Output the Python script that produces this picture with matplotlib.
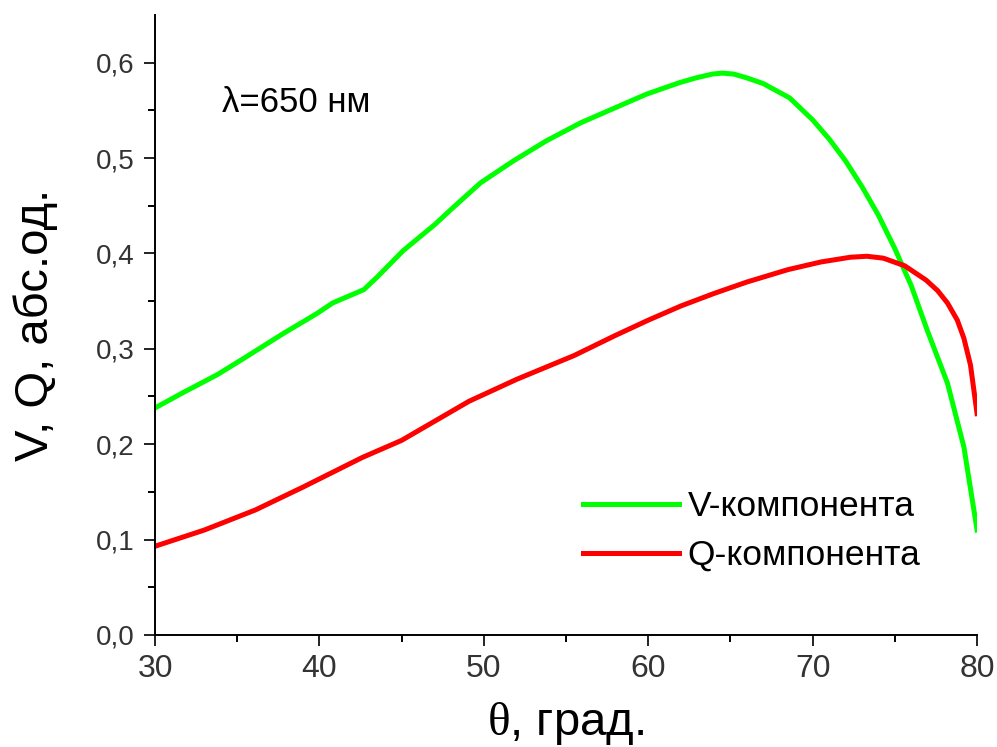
import matplotlib.pyplot as plt
import numpy as np

plt.rcParams['font.family'] = ['Liberation Sans', 'DejaVu Sans']
plt.rcParams['mathtext.fontset'] = 'custom'
plt.rcParams['mathtext.rm'] = 'Liberation Serif'
plt.rcParams['mathtext.it'] = 'Liberation Serif'

W, H = 997, 747

theta_v = [30, 31.7, 33.8, 35.4, 37.8, 39.85, 40.8, 42.7, 43.5, 45.1, 47, 48, 49.8, 51.8, 53.8,
           55.9, 57.9, 59.9, 61.9, 62.9, 63.9, 64.5, 65.2, 66, 67, 68.6, 70, 71, 72, 73, 74, 75,
           76, 77, 78.2, 79.2, 80]
v_comp = [0.238, 0.254, 0.273, 0.290, 0.316, 0.337, 0.348, 0.362, 0.375, 0.403, 0.430, 0.446,
          0.474, 0.497, 0.518, 0.537, 0.552, 0.567, 0.579, 0.584, 0.588, 0.589, 0.588, 0.584,
          0.578, 0.563, 0.540, 0.520, 0.497, 0.470, 0.440, 0.405, 0.366, 0.318, 0.264, 0.197,
          0.110]

theta_q = [30, 33, 36.1, 39, 42.6, 45, 47, 49.1, 52, 55.5, 58, 60, 62, 64, 66, 68.5, 70.5,
           72.3, 73.3, 74.3, 75.6, 76.9, 77.6, 78.2, 78.8, 79.2, 79.6, 80]
q_comp = [0.093, 0.110, 0.131, 0.155, 0.186, 0.204, 0.224, 0.245, 0.268, 0.293, 0.314, 0.330,
          0.345, 0.358, 0.370, 0.383, 0.391, 0.396, 0.397, 0.395, 0.387, 0.372, 0.361, 0.348,
          0.330, 0.311, 0.283, 0.232]

fig = plt.figure(figsize=(W / 100, H / 100), dpi=100)
ax = fig.add_axes([0.1555, 0.15, 0.8245, 0.83])

ax.plot(theta_v, v_comp, color='#00ff00', lw=3.6, label='V-компонента')
ax.plot(theta_q, q_comp, color='#ff0000', lw=3.6, label='Q-компонента')

ax.set_xlim(30, 80)
ax.set_ylim(0, 0.65)
ax.set_xticks([30, 40, 50, 60, 70, 80])
ax.set_xticks(np.arange(35, 80, 10), minor=True)
yt = np.arange(0, 0.61, 0.1)
ax.set_yticks(yt)
ax.set_yticks(np.arange(0.05, 0.65, 0.1), minor=True)
ax.set_yticklabels([f'{v:.1f}'.replace('.', ',') for v in yt])

for side in ['top', 'right']:
    ax.spines[side].set_visible(False)
for side in ['left', 'bottom']:
    ax.spines[side].set_linewidth(1.4)

ax.tick_params(which='major', direction='out', length=8, width=1.4)
ax.tick_params(which='minor', direction='out', length=5, width=1.4)
ax.tick_params(axis='x', labelsize=23, colors='#222222', labelcolor='#333333', pad=6)
ax.tick_params(axis='y', labelsize=20, colors='#222222', labelcolor='#333333', pad=7)

ax.set_xlabel(r'$\theta$, град.', fontsize=34, labelpad=11)
ax.set_ylabel('V, Q, абс.од.', fontsize=34, labelpad=27)

fig.text(222 / W, 1 - 103 / H, 'λ=650 нм', fontsize=25, va='center', ha='left')

ax.legend(loc='upper left', bbox_to_anchor=(583 / W, 1 - 490 / H), bbox_transform=fig.transFigure,
          frameon=False, fontsize=25.5, handlelength=2.7, handletextpad=0.25,
          labelspacing=0.45, borderpad=0, borderaxespad=0)

fig.savefig('out.png', dpi=100)
